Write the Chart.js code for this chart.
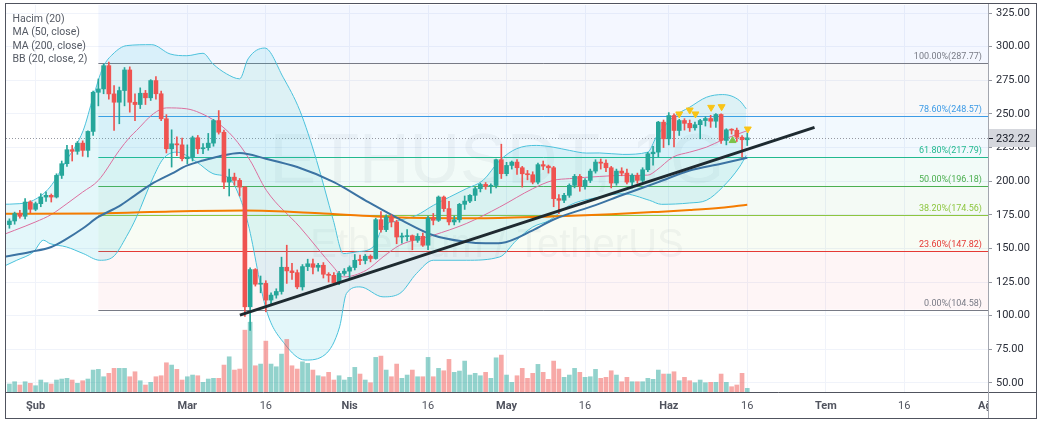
<!DOCTYPE html>
<html>
<head>
<meta charset="utf-8">
<title>ETHUSDT 1G</title>
<script src="https://cdn.jsdelivr.net/npm/chart.js@4.4.0/dist/chart.umd.min.js"></script>
<style>
  html, body { margin: 0; padding: 0; background: #fff; }
  #wrap { width: 1043px; height: 424px; }
</style>
</head>
<body>
<div id="wrap"><canvas id="chart" width="1043" height="424"></canvas></div>
<script>
// days are counted from 1 Şub 2020 (day 0); first candle is 27 Oca
const firstDay = -5;

const opens = [167.7,170.4,175.9,173.9,184.5,
    179.1,183.3,188.2,189.5,188.2,204.3,213,223.4,222.2,228.3,
    222.9,237,266.1,268.6,285.9,264.9,258.7,267.4,282.7,258.7,
    257,265.4,262,274.8,265,246.4,224.1,227.8,227,216.7,
    217.9,232.3,224.1,224.9,228.3,245.1,236.4,199.3,203,200.6,
    195.6,106.6,134.3,123.4,124,111.6,115.3,118,136,133.3,
    132,121.4,136.5,138.6,136,137.5,130.8,130,124.5,131.4,
    133.1,135.8,141.2,141,144.2,142.5,171.4,164,173.4,169.7,
    158.5,158.8,159.5,156,159,152.4,172.6,170.9,188.2,179.6,
    169.7,171.3,182.8,185.2,189.5,194.4,197.6,196.2,196.8,216,
    205.6,211.7,214.2,210,205.5,204.8,199.3,212.3,211.2,210,
    187,185.8,189.5,196.9,203.6,196.1,200.6,207.5,214.2,213.4,
    210,198.6,207.5,206,199.3,204.3,200.6,208.5,220.4,221.6,
    243.9,231.5,248.8,237.7,245.1,243,239.7,242,245.1,246.6,
    244.6,249.6,230.3,238.2,237.9,232.7,230.8];

const highs = [172,177,178.3,187,185.5,
    184.5,190.7,192,190.5,205.5,215,226.6,226.6,229.5,230,
    237.5,267,276,287,288.5,271,270,284.5,285,265,
    269.4,267.5,275.5,277.8,267,249.5,238.2,233,232,227,
    233.5,234,228,235.5,246,252.5,238,209,206,202,
    196,135.5,135,129.5,126,117,120,143.5,152.4,139,
    134,138,142,142,139,139.5,132,132,133,135,
    137,145.5,145,145.5,145.2,172.5,177.4,175,175,171,
    161.5,164,160,161,161.5,174,176,189,189,185,
    174,183.5,189,190,195.5,198.5,199,198,216.5,227.5,
    214,215,216,211,208,207,213.5,215,212,211,
    190,191,198,205,205,202,209,216,216.5,215.8,
    211,209,210,209,205.5,206,210,221.5,226,244.5,
    245.5,251,250,246,246.5,245.5,244,246,248,249,
    250.2,250,239,239,239.5,234,236];

const lows = [165,168,172.5,172,176.5,
    178,181,185,184.5,187.5,202,211,215,220,218.5,
    218,234,256,265,261,237.7,242.7,256,251.3,245,
    254,257,260,261,245,221,210.5,219,215,213,
    215,220.5,220.5,223,226,235,194.5,189,197,189,
    99.5,89,122,117,102.9,109,113,116,124,127,
    120,119,133.5,131,133,128,125,123.5,123,130,
    128,134,138,138.5,140,142,162,162.5,166,153.5,
    154,155.5,149,154.5,151.5,149,167.5,170,177.5,167.5,
    167.5,169.5,179,184,185.5,192,194,191,195,202,
    204,209,205,195.6,201,198,198,208.5,206,181,
    175.9,184,188,195,192.5,194,199,206,209,207,
    195,197,204,198,195,198.5,199.5,207,212,218,
    225,227,225.4,234,238,237,238,231.5,241,240,
    240,228,227,235,229.5,217.9,226.5];

const closes = [170.4,175.9,173.9,184.5,179.1,
    183.3,188.2,189.5,188.2,204.3,213,223.4,222.2,228.3,222.9,
    237,266.1,268.6,285.9,264.9,258.7,267.4,282.7,258.7,257,
    265.4,262,274.8,265,246.4,224.1,227.8,227,216.7,217.9,
    232.3,224.1,224.9,228.3,245.1,236.4,199.3,203,200.6,195.6,
    106.6,134.3,123.4,124,111.6,115.3,118,136,133.3,132,
    121.4,136.5,138.6,136,137.5,130.8,130,124.5,131.4,133.1,
    135.8,141.2,141,144.2,142.5,171.4,164,173.4,169.7,158.5,
    158.8,159.5,156,159,152.4,172.6,170.9,188.2,179.6,169.7,
    171.3,182.8,185.2,189.5,194.4,197.6,196.2,196.8,216,205.6,
    211.7,214.2,210,205.5,204.8,199.3,212.3,211.2,210,187,
    185.8,189.5,196.9,203.6,196.1,200.6,207.5,214.2,213.4,210,
    198.6,207.5,206,199.3,204.3,200.6,208.5,220.4,221.6,243.9,
    231.5,248.8,237.7,245.1,243,239.7,242,245.1,246.6,244.6,
    249.6,230.3,238.2,237.9,232.7,230.8,232.22];

// volume, thousands
const volumes = [400,515,350,515,435,
    315,600,465,400,600,650,685,600,435,565,
    650,1100,1135,765,935,1185,1185,1185,765,1015,
    565,350,485,765,815,1465,1350,1135,600,765,
    850,815,485,650,685,685,1350,1765,1100,1150,
    3100,3500,1315,1400,2550,1400,1265,1900,2635,1315,
    1150,1515,1435,1100,815,765,985,600,815,600,
    735,1235,900,600,465,1735,1800,1100,765,1400,
    685,850,1100,765,765,1735,765,1185,1065,1635,
    985,1050,1550,850,935,815,985,685,1715,1850,
    850,485,815,1185,685,935,1385,985,635,1550,
    1150,735,850,1185,985,735,765,1135,685,735,
    1065,850,515,735,515,515,515,685,635,1100,
    900,900,1015,565,735,565,465,600,465,485,
    485,900,485,265,350,935,185];

const ma50Days = [-6,-1,3,6,9,12,16,19,22,26,29,32,35,39,44,50,57,63,70,76,82,86,89,95,99,107,112,119,125,131,136];
const ma50Vals = [143.7,147.4,151.1,157.3,164.8,173.4,181.5,189.5,197.5,205.6,211.7,215.4,218.4,220.9,216.7,210.5,199.3,185.8,170.9,159.8,155,153.8,154.1,163.4,171.5,182.2,189.5,199.3,208,213,217.4];

const ma200Days = [-6,12,26,40,55,70,85,100,110,118,125,131,136];
const ma200Vals = [175.8,176,177.5,178.2,176,173,172.5,174,175.5,177,178.5,180.2,182.5];

const bbBasisDays = [-7,-4,0,3,6,9,12,16,18,19.3,22.5,25,28.9,31.4,34.6,37.8,41,44.1,50.5,56.9,58.8,63.2,66.4,69.6,76,82.3,88.7,95,98.9,102,107.8,112.2,117,118.6,121.8,125,128.2,131.3,136.1];
const bbBasisVals = [159,163.5,169.7,175.2,183.3,191.9,200.6,222.9,232.7,237.7,250.1,254.5,253.8,250.8,243.9,232.7,215.4,193.2,165.9,136.3,128.8,133.8,143.7,152.4,159.8,168.5,180.8,194.4,200.6,201.9,203.5,204.3,204.5,208,217.9,221.6,225.3,230.8,237.7];

const bbUpperDays = [-7,-3,-0.4,2.75,5.9,9.1,11,12.9,14.8,17.4,22.2,25.7,28.9,32,33.9,36.5,39,40.6,43.8,47.3,50.5,53.7,56.9,58.8,61.3,64.5,66.4,69.6,72.8,76,79.1,82.3,85.5,88.7,91.9,95.7,98.9,102,105.3,107.8,112.2,117,118.6,121.8,125,128.2,131.3,134.5,135.8];
const bbUpperVals = [182.8,183.3,185.8,195.6,215.4,237.7,262.4,284.7,294.6,300.8,301.5,294.6,293.3,295.1,287.2,279.8,276.1,290.9,299,277.3,252.5,215.4,170.9,146.2,147.4,151.1,165.9,170.9,174.6,182,188.2,194.4,200.6,215.4,224.1,226.6,225.3,222.9,220.9,221,219.9,221.6,232.7,247.6,255,262.4,264.4,260,253.8];

const bbLowerDays = [-7,-3.6,-0.4,1.5,2.75,5.9,9.1,12.3,14.8,17.4,19.3,22.5,24.4,26.9,30.8,33.9,37.1,39,40.6,44.1,47.6,51.5,55.3,58.1,59.4,62,66.4,69.6,72.8,76,82.3,88.7,91.9,95,98.2,102,107.8,112.2,117.3,119.6,125,128.2,131.3,134.5,135.8];
const bbLowerVals = [135,141.2,147.4,156.1,153.6,151.1,146.2,141.2,143.7,159,173.4,203,216.7,221.6,214.2,205.6,201.9,188.2,168.5,104.1,79,67,71,91.7,116.5,121.4,114,116.5,131.4,141.2,141.2,143.7,156.1,165.9,170.9,182,188.2,190.7,185.8,182.8,183.8,185.8,195.6,210.5,219.2];

// trend line drawn on the chart (start / end)
const trendDays = [39.04, 148.85];
const trendVals = [100.4, 240];

// signal markers
const sellDays = [123, 125, 126.1, 129.1, 131.1, 136.1];
const sellVals = [250, 252.9, 250, 254.9, 255.4, 238.8];
const buyDays = [133.2];
const buyVals = [230.2];

// fibonacci retracement
const fibStartDay = 12;
const fibLevels = [287.77, 248.57, 217.79, 196.18, 174.56, 147.82, 104.58];
const fibPercents = ['100.00%', '78.60%', '61.80%', '50.00%', '38.20%', '23.60%', '0.00%'];

const tickDays = [0, 29, 44, 60, 75, 90, 105, 121, 136, 151, 166, 182];
const tickLabels = ['Şub', 'Mar', '16', 'Nis', '16', 'May', '16', 'Haz', '16', 'Tem', '16', 'Ağu'];
const priceTicks = [50, 75, 100, 125, 150, 175, 200, 225, 250, 275, 300, 325];
const legendLines = ['Hacim (20)', 'MA (50, close)', 'MA (200, close)', 'BB (20, close, 2)'];
const lastPrice = 232.22;

const upColor = '#26a69a';
const downColor = '#ef5350';
const fibColors = ['#787b86', '#3d9be6', '#22b98f', '#4caf50', '#8dc63f', '#e53935', '#787b86'];
const fibFills = ['rgba(41,98,255,0.05)', 'rgba(120,123,134,0.05)', 'rgba(33,150,243,0.06)',
    'rgba(34,185,143,0.06)', 'rgba(76,175,80,0.06)', 'rgba(141,198,63,0.06)', 'rgba(242,54,69,0.05)'];

const pts = (days, vals) => days.map((d, i) => ({ x: d, y: vals[i] }));
const candleDays = closes.map((_, i) => firstDay + i);
const isUp = closes.map((c, i) => c >= opens[i]);

const bgLayers = {
    id: 'bgLayers',
    beforeDatasetsDraw(chart) {
        const { ctx, chartArea: a, scales: { x, y } } = chart;
        ctx.save();
        ctx.beginPath();
        ctx.rect(a.left, a.top, a.width, a.height);
        ctx.clip();

        // watermark
        ctx.fillStyle = 'rgba(120,123,134,0.08)';
        ctx.textAlign = 'center';
        ctx.textBaseline = 'alphabetic';
        ctx.font = '70px "Liberation Sans", Arial, sans-serif';
        ctx.fillText('ETHUSDT, 1G', (a.left + a.right) / 2, 183);
        ctx.font = '40px "Liberation Sans", Arial, sans-serif';
        ctx.fillText('Ethereum / TetherUS', (a.left + a.right) / 2, 257);

        // fib bands
        const x0 = x.getPixelForValue(fibStartDay);
        let prevY = a.top;
        fibLevels.forEach((v, i) => {
            const yy = y.getPixelForValue(v);
            ctx.fillStyle = fibFills[i];
            ctx.fillRect(x0, prevY, a.right - x0, yy - prevY);
            prevY = yy;
        });

        // fib lines and labels
        ctx.font = '9px Roboto, "Liberation Sans", sans-serif';
        ctx.textAlign = 'right';
        ctx.textBaseline = 'bottom';
        fibLevels.forEach((v, i) => {
            const yy = Math.round(y.getPixelForValue(v)) + 0.5;
            ctx.strokeStyle = fibColors[i];
            ctx.lineWidth = 1;
            ctx.beginPath();
            ctx.moveTo(x0, yy);
            ctx.lineTo(a.right, yy);
            ctx.stroke();
            ctx.fillStyle = fibColors[i];
            ctx.fillText(fibPercents[i] + '(' + v.toFixed(2) + ')', a.right - 6, yy - 2);
        });

        // last price dotted line
        const py = Math.round(y.getPixelForValue(lastPrice)) + 0.5;
        ctx.strokeStyle = '#9598a1';
        ctx.setLineDash([1, 2]);
        ctx.beginPath();
        ctx.moveTo(a.left, py);
        ctx.lineTo(a.right, py);
        ctx.stroke();
        ctx.restore();
    }
};

const overlay = {
    id: 'overlay',
    afterDraw(chart) {
        const { ctx, chartArea: a, scales: { y } } = chart;
        ctx.save();

        // empty corner under the price scale
        ctx.fillStyle = '#fff';
        ctx.fillRect(a.right + 1, a.bottom + 1, 1036 - a.right - 1, 418 - a.bottom - 1);

        // frame
        ctx.lineWidth = 1;
        ctx.strokeStyle = '#50535e';
        ctx.strokeRect(5.5, 3.5, 1031, 415);
        ctx.beginPath();
        ctx.moveTo(5.5, a.bottom + 0.5);
        ctx.lineTo(1036.5, a.bottom + 0.5);
        ctx.stroke();
        ctx.strokeStyle = '#a3a6af';
        ctx.beginPath();
        ctx.moveTo(a.right + 0.5, 4);
        ctx.lineTo(a.right + 0.5, 418);
        ctx.stroke();

        // last price tag
        const py = Math.round(y.getPixelForValue(lastPrice));
        ctx.fillStyle = '#d5d7dd';
        ctx.fillRect(a.right + 1, py - 9, 1036 - a.right - 1, 18);
        ctx.strokeStyle = '#131722';
        ctx.beginPath();
        ctx.moveTo(a.right + 1, py + 0.5);
        ctx.lineTo(a.right + 5, py + 0.5);
        ctx.stroke();
        ctx.fillStyle = '#131722';
        ctx.font = '11px Roboto, "Liberation Sans", sans-serif';
        ctx.textAlign = 'left';
        ctx.textBaseline = 'middle';
        ctx.fillText(lastPrice.toFixed(2), a.right + 8, py + 1);

        // indicator legend
        ctx.fillStyle = '#555a64';
        ctx.font = '10.5px Roboto, "Liberation Sans", sans-serif';
        legendLines.forEach((t, i) => ctx.fillText(t, 12.5, 19 + i * 13.5));
        ctx.restore();
    }
};

new Chart(document.getElementById('chart'), {
    type: 'bar',
    data: {
        datasets: [
            {
                type: 'line', label: 'BB upper', data: pts(bbUpperDays, bbUpperVals),
                borderColor: '#4cc2dc', borderWidth: 1, pointRadius: 0,
                cubicInterpolationMode: 'monotone',
                fill: '+1', backgroundColor: 'rgba(38,190,215,0.13)', order: 10
            },
            {
                type: 'line', label: 'BB lower', data: pts(bbLowerDays, bbLowerVals),
                borderColor: '#4cc2dc', borderWidth: 1, pointRadius: 0,
                cubicInterpolationMode: 'monotone', fill: false, order: 10
            },
            {
                type: 'line', label: 'BB basis', data: pts(bbBasisDays, bbBasisVals),
                borderColor: '#dc6f9f', borderWidth: 1, pointRadius: 0,
                cubicInterpolationMode: 'monotone', fill: false, order: 9
            },
            {
                type: 'bar', label: 'Hacim', yAxisID: 'vol',
                data: volumes.map((v, i) => ({ x: candleDays[i], y: v })),
                backgroundColor: isUp.map(u => u ? 'rgba(38,166,154,0.5)' : 'rgba(239,83,80,0.5)'),
                barThickness: 4, grouped: false, order: 8
            },
            {
                type: 'line', label: 'MA 200', data: pts(ma200Days, ma200Vals),
                borderColor: '#f57c00', borderWidth: 2, pointRadius: 0,
                cubicInterpolationMode: 'monotone', fill: false, order: 6
            },
            {
                type: 'line', label: 'MA 50', data: pts(ma50Days, ma50Vals),
                borderColor: '#3b73a3', borderWidth: 2, pointRadius: 0,
                cubicInterpolationMode: 'monotone', fill: false, order: 5
            },
            {
                type: 'bar', label: 'wick',
                data: candleDays.map((d, i) => ({ x: d, y: [lows[i], highs[i]] })),
                backgroundColor: isUp.map(u => u ? upColor : downColor),
                barThickness: 1, grouped: false, order: 3
            },
            {
                type: 'bar', label: 'body',
                data: candleDays.map((d, i) => ({ x: d, y: [opens[i], closes[i]] })),
                backgroundColor: isUp.map(u => u ? upColor : downColor),
                barThickness: 4, minBarLength: 1, grouped: false, order: 2
            },
            {
                type: 'line', label: 'trend', data: pts(trendDays, trendVals),
                borderColor: '#1e2a30', borderWidth: 3, pointRadius: 0, fill: false, order: 1
            },
            {
                type: 'line', label: 'sell', data: pts(sellDays, sellVals), showLine: false,
                pointStyle: 'triangle', pointRadius: 4, pointRotation: 180,
                backgroundColor: '#f9c416', borderColor: '#f9c416', order: 0
            },
            {
                type: 'line', label: 'buy', data: pts(buyDays, buyVals), showLine: false,
                pointStyle: 'triangle', pointRadius: 4,
                backgroundColor: '#7cc24a', borderColor: '#7cc24a', order: 0
            }
        ]
    },
    options: {
        responsive: false,
        animation: false,
        devicePixelRatio: 1,
        layout: { padding: { left: 6, right: 6, top: 4, bottom: 6 } },
        plugins: { legend: { display: false }, tooltip: { enabled: false } },
        scales: {
            x: {
                type: 'linear', min: -5.65, max: 182, offset: false,
                afterBuildTicks: s => { s.ticks = tickDays.map(v => ({ value: v })); },
                afterFit: s => { s.height = 26; s.paddingLeft = 0; s.paddingRight = 0; },
                grid: { color: '#f0f3fa', drawTicks: false, offset: false },
                border: { display: false },
                ticks: {
                    autoSkip: false, maxRotation: 0, padding: 8, color: '#50535e',
                    font: ctx => ({
                        family: 'Roboto, "Liberation Sans", sans-serif', size: 11,
                        weight: (ctx.tick && tickLabels[tickDays.indexOf(ctx.tick.value)] !== '16') ? 'bold' : 'normal'
                    }),
                    callback: v => tickLabels[tickDays.indexOf(v)]
                }
            },
            y: {
                position: 'right', min: 43.25, max: 331,
                afterBuildTicks: s => { s.ticks = priceTicks.map(v => ({ value: v })); },
                afterFit: s => { s.width = 49; s.paddingTop = 0; s.paddingBottom = 0; },
                grid: { color: '#f0f3fa', tickColor: '#9598a1', tickLength: 4 },
                border: { display: false },
                ticks: {
                    padding: 4, color: '#2a2e39',
                    font: { family: 'Roboto, "Liberation Sans", sans-serif', size: 11 },
                    callback: v => Number(v).toFixed(2)
                }
            },
            vol: { type: 'linear', axis: 'y', display: false, min: 0, max: 19400 }
        }
    },
    plugins: [bgLayers, overlay]
});
</script>
</body>
</html>
